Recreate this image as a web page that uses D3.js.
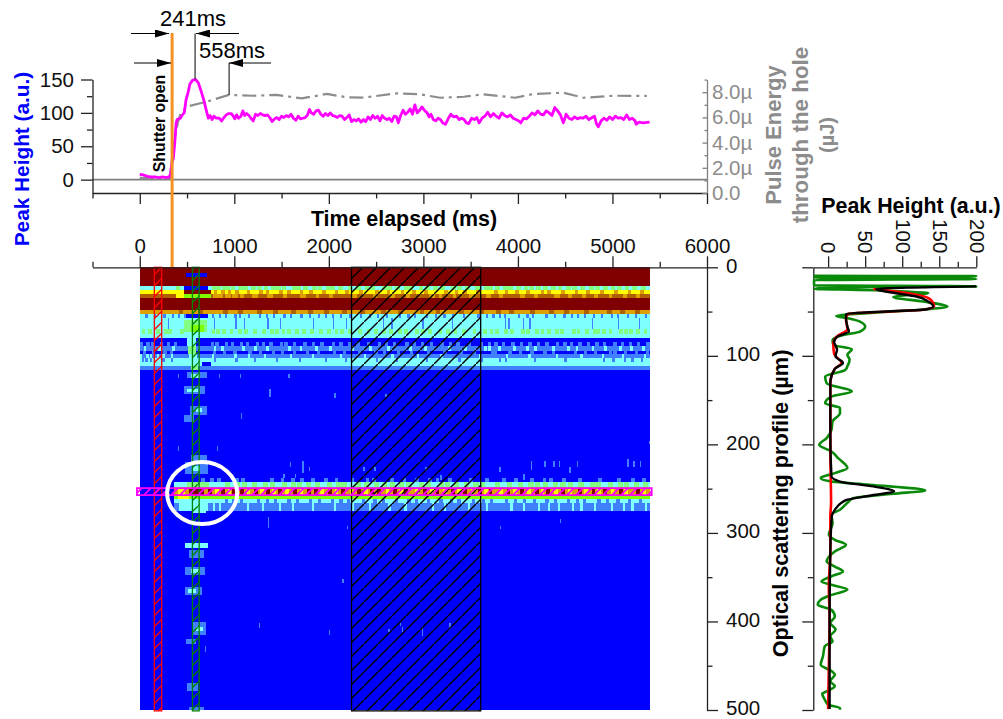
<!DOCTYPE html>
<html lang="en">
<head>
  <meta charset="UTF-8">
  <title>Optical scattering profile</title>
  <script src="https://d3js.org/d3.v7.min.js"></script>
  <style>
    body { margin: 0; background: white; font-family: "Liberation Sans", Arial, sans-serif; }
    text { font-family: "Liberation Sans", Arial, sans-serif; }
    .axis text { font-size: 20.5px; fill: #111; }
    .axis path, .axis line { stroke: #222; stroke-width: 1.3px; }
    .grey path, .grey line { stroke: #808080; }
    .grey text { fill: #8c8c8c; }
    .label { font-weight: bold; font-size: 21.4px; }
  </style>
</head>
<body>
<div id="chart"></div>
<script>
// ---- top trace: peak height (a.u.) against time (ms)
var peakTime = [0,40,80,120,160,200,240,280,310,325,340,355,370,385,395,430,450,470,490,510,530,560,590,620,650,680,705,725,745,765,785,810,840,865,890,915,940,965,985,1005,1025,1045,1070,1090,1110,1130,1155,1175,1200,1225,1250,1275,1300,1325,1350,1375,1400,1425,1450,1475,1500,1525,1550,1575,1600,1625,1650,1675,1700,1725,1750,1775,1795,1815,1840,1865,1890,1915,1940,1965,1990,2015,2040,2065,2090,2115,2140,2165,2190,2215,2240,2265,2290,2315,2340,2365,2390,2415,2440,2465,2490,2515,2540,2565,2590,2615,2640,2665,2690,2715,2735,2760,2785,2810,2835,2860,2885,2910,2935,2960,2985,3010,3040,3060,3080,3105,3130,3155,3180,3205,3235,3265,3290,3320,3350,3380,3405,3430,3455,3480,3510,3540,3565,3590,3620,3650,3680,3710,3740,3770,3800,3830,3860,3890,3920,3950,3980,4010,4030,4060,4090,4120,4150,4180,4210,4240,4270,4300,4330,4360,4390,4420,4450,4480,4510,4540,4570,4600,4630,4660,4690,4720,4750,4785,4810,4830,4850,4880,4910,4940,4970,5000,5030,5060,5090,5120,5150,5180,5210,5240,5250,5280,5320,5393];
var peakHeight = [8,7,5,4,4,3,4,3,4,8,25,32,55,85,90,92,97,100,120,130,143,149,150,145,132,118,103,92,96,90,95,92,92,88,93,97,99,99,96,91,97,92,95,103,96,99,96,92,88,98,96,99,97,96,97,93,87,91,93,90,95,93,96,94,98,92,89,95,91,92,93,97,105,100,98,103,104,98,95,99,96,100,96,95,93,96,95,90,93,97,87,90,88,91,86,90,87,94,90,96,92,95,88,96,92,90,92,87,95,94,85,96,104,98,101,106,98,112,100,104,109,104,100,94,98,90,88,92,90,85,83,92,98,94,95,90,92,90,85,84,92,90,93,85,92,95,101,94,99,95,92,100,96,94,97,92,90,88,85,92,91,95,100,97,103,98,97,103,100,96,108,103,97,85,98,92,90,94,91,93,92,95,90,93,95,84,79,88,92,89,94,90,95,92,93,90,97,90,92,88,83,86,85,86];

// ---- top trace: pulse energy (uJ)
var energyTime = [0,150,320,340,370,400,430,496,708,942,1203,1449,1714,1979,2190,2366,2718,2965,3178,3425,3636,3971,4165,4483,4694,5012,5364];
var energyValue = [1.2,1.2,1.2,2.6,4.2,5.5,6.3,6.85,7.25,7.78,7.72,7.78,7.51,7.86,7.6,7.57,7.91,7.83,7.56,7.64,7.83,7.56,7.86,7.96,7.56,7.72,7.7];

var shutterTime = 342, peakAt = 585, settleAt = 945;

// ---- heat map: horizontal bands, depth in um, level is an index in heatColours
var heatColours = ["#0000ff","#4080ff","#80ffff","#80ff80","#80ff00","#ffff00","#dca000","#b06000","#800000"];
var heatEnd = 5393;
var bandDepths = [0,21,26,30,34.5,48.6,53,70,75,80,89,94,98,103,107,112,116,500];
var bandLevels = [8,2,5,7,8,6,2,2,2,0,1,0,1,2,2,1,0];
var lowerStart = 360;
var lowerDepths = [243,248,250.7,257,262,266,275];
var lowerLevels = [2,4,6,4,2,1];

// flecks inside the bands, start time of each small cell
var green21 = [380,760,810,870,900,960,1040,1090,1180,1240,1310,1390,1440,1500,1610,1660,1730,1820,1880,1970,2020,2100,2200,2290,2380,2440,2560,2620,2700,2790,2840,2950,3020,3100,3180,3290,3360,3440,3550,3640,3690,3760,3840,3900,3980,4060,4120,4190,4270,4350,4420,4510,4570,4660,4750,4820,4900,4980,5050,5130,5210,5300];
var amber26 = [780,860,930,1010,1130,1260,1330,1470,1560,1690,1790,1930,2060,2170,2320,2490,2610,2760,2880,3010,3220,3330,3420,3560,3750,3860,3970,4090,4240,4310,4460,4600,4720,4870,5020,5160,5290];
var bright30 = [770,790,820,840,900,920,980,1000,1060,1190,1210,1350,1370,1520,1700,1720,1860,2000,2240,2260,2470,2640,2660,2820,3060,3080,3160,3310,3480,3500,3660,3680,3800,4020,4040,4170,4380,4400,4530,4680,4810,4960,5110,5250];
var dark49 = [410,620,880,1040,1240,1410,1600,1780,1950,2140,2330,2550,2730,2960,3130,3380,3590,3770,3910,4130,4330,4490,4700,4940,5080,5240];
var blue53 = [60,150,250,340,400,470,760,840,900,1000,1050,1140,1260,1330,1410,1520,1590,1700,1790,1880,1960,2030,2120,2210,2330,2420,2510,2600,2740,2830,2900,3030,3120,3210,3300,3420,3570,3660,3730,3800,3850,4000,4090,4150,4290,4380,4480,4560,4620,4700,4790,4880,4980,5050,5150,5240,5340];
var blue57 = [300,780,1010,1100,1350,1480,1830,2040,2180,2570,2660,2990,3300,3860,3900,4050,4120,4780,5060,5280];
var green70 = [20,90,170,260,300,430,760,810,870,950,1040,1100,1200,1290,1380,1430,1500,1560,1640,1720,1800,1900,1980,2060,2120,2200,2310,2400,2480,2560,2640,2730,2800,2910,2980,3050,3160,3240,3320,3410,3520,3630,3700,3760,3850,3920,4030,4090,4180,4240,4310,4390,4450,4570,4620,4710,4790,4830,4890,4960,5070,5120,5180,5250,5330];
var light84 = [0,70,120,210,290,360,750,800,900,960,1060,1120,1230,1290,1370,1480,1530,1620,1730,1820,1910,2030,2110,2200,2290,2400,2520,2590,2680,2810,2890,2970,3070,3180,3270,3350,3470,3600,3680,3750,3830,3930,4020,4110,4200,4290,4400,4480,4550,4640,4730,4820,4900,5010,5090,5170,5260,5360];
var cyan89 = [40,190,340,780,860,1080,1210,1340,1570,1690,1850,2000,2240,2430,2620,2850,3010,3260,3430,3640,3680,3790,3950,4090,4170,4360,4520,4610,4780,4910,5070,5190,5310];
var light94 = [30,130,250,320,770,880,990,1150,1260,1400,1490,1620,1760,1870,2040,2150,2310,2480,2570,2720,2860,3040,3210,3380,3520,3710,3740,3900,4010,4130,4270,4360,4590,4700,4800,4960,5010,5120,5240,5350];
var cyan98 = [0,70,110,180,240,330,760,1000,1140,1310,1590,1820,2120,2370,2660,2930,3180,3590,3870,4110,4400,4660,4890,5100,5330];
var light103 = [20,60,110,240,330,780,1010,1210,1440,1680,1960,2170,2500,2710,3030,3370,3610,3800,3860,4170,4490,4900,5000,5120,5200,5300];

// flecks around the bright line at 255 um
var halo238 = [650,740,820,1010,1070,1380,1490,1600,1700,1810,1950,2060,2230,2390,2460,2650,2780,2910,3050,3130,3260,3480,3650,3830,3960,4130,4260,4330,4470,4640,4850,5050,5200,5310];
var green243 = [500,560,620,680,900,1000,1080,1190,1300,1380,1500,1600,1660,1760,1850,1980,2080,2140,2280,2370,2480,2560,2650,2740,2820,2950,3030,3160,3230,3320,3430,3530,3600,3760,3880,4000,4110,4180,4260,4370,4450,4530,4640,4760,4820,4950,5060,5120,5230,5320];
var red250 = [520,560,600,640,720,860,980,1060,1210,1340,1460,1620,1770,1840,1990,2130,2300,2440,2510,2680,2800,3000,3130,3290,3420,3580,3690,3880,4020,4180,4300,4460,4640,4780,4900,5070,5250];
var yellow250 = [400,440,800,930,1130,1270,1400,1540,1690,1910,2060,2220,2370,2600,2740,2910,3070,3210,3360,3500,3640,3800,3950,4100,4240,4380,4530,4700,4840,4980,5120,5320];
var light262 = [900,980,1060,1240,1330,1420,1560,1650,1790,1880,2020,2110,2190,2350,2470,2560,2700,2830,2910,3040,3170,3280,3360,3510,3620,3700,3860,3960,4050,4160,4290,4380,4520,4610,4690,4840,4930,5040,5160,5280];
var cyan266 = [440,620,700,770,840,1130,1290,1470,1610,1820,2050,2240,2420,2630,2800,3090,3220,3470,3660,3920,4050,4210,4320,4420,4570,4660,4800,4980,5110,5200,5340];

// patches round the pulse column: [t0, t1, depth0, depth1, level]
var pulsePatches = [
  [487,715,6.7,11,0],[469,723,21,26,0],[469,750,26,30,8],[380,470,30,34.5,5],[470,750,30,34.5,4],
  [490,720,53,57,0],[469,715,60,73,3],[540,680,65,73,4],[500,600,80,89,2],[510,600,89,98,3],
  [520,610,98,107,2],[660,750,107,112,0],[540,620,112,116,3],[500,710,118,125,1],[540,640,120,125,2],
  [469,691,134,143,1],[500,620,137,141,2],[532,712,157,167,1],[590,660,159,163,2],[469,570,167,175,1],
  [540,712,212,220,1],[480,720,220,233,1],[560,640,224,230,2],
  [400,520,257,262,5],[380,700,262,266,2],[420,720,266,275,2],[560,700,270,278,2],
  [480,720,311,317,2],[520,680,319,328,1],[480,690,338,347,1],[540,640,341,345,2],
  [480,660,361,370,1],[510,600,363,368,2],[560,700,401,415,1],[590,670,406,411,2],[490,600,420,426,1],
  [500,620,469,479,1],[520,680,497,500,1]
];

// single thin cells in the blue field: [t, depth0, depth1]
var tinyFlecks = [[402,121,125],[839,121,125],[1062,121,125],[1573,121,125],[1372,137,147],[2057,142,148],[2596,143,146],[1072,165,171],[402,202,207],[815,202,207],[1590,220,225],[1718,219,232],[1790,225,230],[2365,225,230],[2480,225,230],[1354,282,294],[1714,222,232],[1640,233,238],[1520,233,238],[4137,219,229],[4280,219,226],[4375,219,226],[4430,219,226],[4624,219,226],[5157,216,226],[5222,219,226],[5290,219,226],[3804,225,231],[4058,234,240],[4545,226,232],[4441,284,289],[3810,292,296],[5385,196,200],[691,428,434],[1262,402,407],[2000,410,415],[2142,352,357],[2628,408,412],[2772,406,412],[2750,402,405],[2984,406,416],[3273,402,408],[3020,225,230],[3180,235,240],[2190,292,296]];

// hatched selections
var redWindow = [154,232], greenWindow = [557,628], blackWindow = [2240,3606], pinkDepths = [249.4,257.3];

// ---- right panel: depth (um) and peak height (a.u.)
var greenDepth = [9.5,10,11.5,13.2,14.5,20.5,21.5,22.5,24.5,25.5,26,27.5,29,33.5,38.7,44.4,47.4,51.9,54.9,57.5,61.3,66.9,72.6,76.3,82,87.6,92.5,98.9,104.5,112,115.9,123.4,131,140.3,146,153.5,159,164.8,174,183.6,193,200.5,208,215.5,226.8,232.5,238,242,245.6,252,255.8,260.7,266,273.8,279.5,288.9,302,307.8,313.4,321,332,338,343.5,349,355,358.6,364,370,375.5,381,386.8,394.3,401.8,409,416.8,422.5,428,439.4,448.8,456,460,467.6,473,479,481.5,488.3,494,497.7,499.6];
var greenValue = [-19,200,-19,200,-19,-19,200,30,-19,40,63,105,135,88,128,161,133,52,11,27,43,50,43,22,6,7,32,26,29,26,23,-4,-2,32,4.5,-4,16,16,6,4.5,-2,-12,4.5,13.5,26,9,-10,4.5,56,131,88,34,26,16,4.5,6,1,9,24,9,-2,9,20,4.5,-9,4.5,26,4.5,-10,-14,4.5,9,3,10,3,6,-4.5,-7,-10,4.5,9,3,9,-2,-8,-4.5,0,16,16];
var redDepth = [24.5,27,29.5,35.5,44,48,52.6,58,70,78,86,97.5,108,114.7,131,210,266,281,319,360,400,450,499];
var redValue = [61,88,110,137,143,128,27,24,26,12,7,8,18,9,3,3,4,3,3,1,2,1,0];
var blackDepth = [21.5,24.5,25.5,29.3,33,38.7,44.4,47.4,52.6,55.7,67,72.6,78,84,93,100.5,108,114.7,131,191,236,242,247.5,253,258,262.5,266,274,281,319,400,499];
var blackValue = [200,65,67,92,119,135,142,133,25,24,26,28,13,8,12,10,20,9,3,3,4.5,16,61,89,56,26,18,9,5,3,2,2];

var xTicks = [0,1000,2000,3000,4000,5000,6000];
var xMinor = [-500,500,1500,2500,3500,4500,5500];

// ---- scales
var width = 1003, height = 719;
var svg = d3.select("#chart").append("svg").attr("width", width).attr("height", height).style("display", "block");

var xScale = d3.scaleLinear().domain([-500,6000]).range([92.5,707]);
var yPeak = d3.scaleLinear().domain([-20,150]).range([193,79.5]);
var yEnergy = d3.scaleLinear().domain([0,9]).range([193,79.6]);
var yDepth = d3.scaleLinear().domain([0,500]).range([267.3,710]);
var xPanel = d3.scaleLinear().domain([-20,200]).range([813.3,976.3]);

// ---- hatch patterns
function addHatch(id, colour, size, weight) {
  svg.append("pattern").attr("id", id).attr("patternUnits", "userSpaceOnUse")
    .attr("width", size).attr("height", size)
    .append("path").attr("d", "M-1," + (size+1) + " L" + (size+1) + ",-1")
    .attr("stroke", colour).attr("stroke-width", weight);
}
addHatch("hatchBlack", "#000", 14, 1.4);
addHatch("hatchRed", "#ff0000", 11, 1.3);
addHatch("hatchGreen", "#008000", 11, 1.3);
addHatch("hatchPink", "#ff00ff", 9, 1.8);

// ---- heat map
var heat = svg.append("g").attr("shape-rendering", "crispEdges");
function cell(t0, t1, d0, d1, level) {
  heat.append("rect").attr("x", xScale(t0)).attr("y", yDepth(d0))
    .attr("width", xScale(t1)-xScale(t0)).attr("height", yDepth(d1)-yDepth(d0))
    .attr("fill", heatColours[level]);
}
bandLevels.forEach(function(l, i) { cell(0, heatEnd, bandDepths[i], bandDepths[i+1], l); });
lowerLevels.forEach(function(l, i) { cell(lowerStart, heatEnd, lowerDepths[i], lowerDepths[i+1], l); });

// each row: times, depth0, depth1, level, cell width in ms
var fleckRows = [
  [green21,21,26,3,50],[amber26,26,30,6,40],[bright30,30,34.5,6,40],[dark49,48.6,53,7,50],[blue53,53,57,1,24],[blue57,57,70,1,14],
  [green70,70,75,3,40],[light84,84,89,1,35],[cyan89,89,94,2,30],[light94,94,98,1,35],[cyan98,98,103,2,24],[light103,103,107,1,24],
  [halo238,238,243,1,40],[green243,243,248,3,55],[red250,250.7,257,8,40],[yellow250,250.7,257,5,40],[light262,262,266,1,35],[cyan266,266,275,2,24]
];
fleckRows.forEach(function(r) {
  r[0].forEach(function(t) { cell(t, Math.min(t+r[4], heatEnd), r[1], r[2], r[3]); });
});
pulsePatches.forEach(function(p) { cell(p[0], p[1], p[2], p[3], p[4]); });
tinyFlecks.forEach(function(f) { cell(f[0], f[0]+14, f[1], f[2], 1); });

// ---- selections drawn over the map
function selection(t0, t1, d0, d1, pattern, colour, weight) {
  svg.append("rect").attr("x", xScale(t0)).attr("y", yDepth(d0))
    .attr("width", xScale(t1)-xScale(t0)).attr("height", yDepth(d1)-yDepth(d0))
    .attr("fill", "url(#" + pattern + ")").attr("stroke", colour).attr("stroke-width", weight);
}
selection(redWindow[0], redWindow[1], 0, 501, "hatchRed", "#ff0000", 1.3);
selection(greenWindow[0], greenWindow[1], 0, 501, "hatchGreen", "#008000", 1.3);
selection(blackWindow[0], blackWindow[1], 0, 501, "hatchBlack", "#000", 1.3);
selection(-30, 5415, pinkDepths[0], pinkDepths[1], "hatchPink", "#ff00ff", 1.8);

svg.append("ellipse").attr("cx", xScale(660)).attr("cy", yDepth(255)).attr("rx", 35).attr("ry", 31)
  .attr("fill", "none").attr("stroke", "white").attr("stroke-width", 4);

// ---- axes
function minorTicks(g) { g.selectAll("text").remove(); g.select(".domain").remove(); }

// top trace
svg.append("line").attr("x1", xScale(-500)).attr("x2", xScale(6000)).attr("y1", yPeak(0)).attr("y2", yPeak(0))
  .attr("stroke", "#7f7f7f").attr("stroke-width", 1.6);
svg.append("g").attr("class", "axis").attr("transform", "translate(92.5,0)")
  .call(d3.axisLeft(yPeak).tickValues([0,50,100,150]).tickSize(11.5).tickSizeOuter(0).tickPadding(7));
svg.append("g").attr("class", "axis").attr("transform", "translate(92.5,0)")
  .call(d3.axisLeft(yPeak).tickValues([25,75,125]).tickSize(5.5)).call(minorTicks);
svg.append("g").attr("class", "axis").attr("transform", "translate(0,193)")
  .call(d3.axisBottom(xScale).tickValues(xTicks).tickSize(11).tickSizeOuter(0).tickFormat(""));
svg.append("g").attr("class", "axis").attr("transform", "translate(0,193)")
  .call(d3.axisBottom(xScale).tickValues(xMinor).tickSize(5.5)).call(minorTicks);
svg.append("g").attr("class", "axis grey").attr("transform", "translate(707,0)")
  .call(d3.axisRight(yEnergy).tickValues([0,2,4,6,8]).tickSize(-4.5).tickSizeOuter(0).tickPadding(5)
    .tickFormat(function(d) { return d === 0 ? "0.0" : d.toFixed(1) + "\u00b5"; }));
svg.append("g").attr("class", "axis grey").attr("transform", "translate(707,0)")
  .call(d3.axisRight(yEnergy).tickValues([1,3,5,7,9]).tickSize(-2.5)).call(minorTicks);

// heat map axes
svg.append("g").attr("class", "axis").attr("transform", "translate(0,267.3)")
  .call(d3.axisTop(xScale).tickValues(xTicks).tickSize(11).tickSizeOuter(0).tickPadding(3).tickFormat(d3.format("d")));
svg.append("g").attr("class", "axis").attr("transform", "translate(0,267.3)")
  .call(d3.axisTop(xScale).tickValues(xMinor).tickSize(5.5)).call(minorTicks);
svg.append("g").attr("class", "axis depth").attr("transform", "translate(707,0)")
  .call(d3.axisRight(yDepth).tickValues([0,100,200,300,400,500]).tickSize(11).tickSizeOuter(0).tickPadding(8));
svg.selectAll(".depth text").attr("dy", "0.24em");
svg.append("g").attr("class", "axis").attr("transform", "translate(707,0)")
  .call(d3.axisRight(yDepth).tickValues([50,150,250,350,450]).tickSize(5.5)).call(minorTicks);

// right panel axes
var panelTop = svg.append("g").attr("class", "axis").attr("transform", "translate(0,267.3)")
  .call(d3.axisTop(xPanel).tickValues([0,50,100,150,200]).tickSize(11).tickSizeOuter(0));
panelTop.selectAll("text").attr("x", 0).attr("y", 0).attr("dy", "0.35em")
  .attr("text-anchor", "end").attr("transform", "translate(0,-14) rotate(90)");
svg.append("g").attr("class", "axis").attr("transform", "translate(0,267.3)")
  .call(d3.axisTop(xPanel).tickValues([25,75,125,175]).tickSize(5.5)).call(minorTicks);
svg.append("g").attr("class", "axis").attr("transform", "translate(813.3,0)")
  .call(d3.axisLeft(yDepth).tickValues([0,100,200,300,400,500]).tickSize(11).tickSizeOuter(0).tickFormat(""));
svg.append("g").attr("class", "axis").attr("transform", "translate(813.3,0)")
  .call(d3.axisLeft(yDepth).tickValues([50,150,250,350,450]).tickSize(5.5)).call(minorTicks);

// ---- lines
var energyLine = d3.line().x(function(d, i) { return xScale(energyTime[i]); }).y(function(d) { return yEnergy(d); });
svg.append("path").attr("d", energyLine(energyValue)).attr("fill", "none").attr("stroke", "#8c8c8c")
  .attr("stroke-width", 2.2).attr("stroke-dasharray", "14 5 3 5");

var peakLine = d3.line().x(function(d, i) { return xScale(peakTime[i]); }).y(function(d) { return yPeak(d); });
svg.append("path").attr("d", peakLine(peakHeight)).attr("fill", "none").attr("stroke", "#ff00ff")
  .attr("stroke-width", 2.8).attr("stroke-linejoin", "round");

function panelLine(depths, values, colour, weight) {
  var line = d3.line().curve(d3.curveMonotoneY)
    .x(function(d) { return xPanel(d); })
    .y(function(d, i) { return yDepth(depths[i]); });
  svg.append("path").attr("d", line(values)).attr("fill", "none").attr("stroke", colour)
    .attr("stroke-width", weight).attr("stroke-linejoin", "round");
}
panelLine(greenDepth, greenValue, "#0a8a0a", 2.6);
panelLine(redDepth, redValue, "#ff0000", 2.6);
panelLine(blackDepth, blackValue, "#000", 2.4);

// ---- shutter and timing annotations
svg.append("marker").attr("id", "arrow").attr("viewBox", "0 0 14 8").attr("refX", 14).attr("refY", 4)
  .attr("markerUnits", "userSpaceOnUse").attr("markerWidth", 14).attr("markerHeight", 8).attr("orient", "auto")
  .append("path").attr("d", "M0,0 L14,4 L0,8 Z").attr("fill", "#000");

function arrow(x1, x2, y) {
  svg.append("line").attr("x1", x1).attr("x2", x2).attr("y1", y).attr("y2", y)
    .attr("stroke", "#000").attr("stroke-width", 1).attr("marker-end", "url(#arrow)");
}
function tickLine(x, y1, y2) {
  svg.append("line").attr("x1", x).attr("x2", x).attr("y1", y1).attr("y2", y2).attr("stroke", "#000").attr("stroke-width", 1);
}
svg.append("line").attr("x1", xScale(shutterTime)).attr("x2", xScale(shutterTime)).attr("y1", 33).attr("y2", 267)
  .attr("stroke", "#f59122").attr("stroke-width", 3);

arrow(131, 169, 33.5);
arrow(239, 196, 33.5);
tickLine(xScale(peakAt), 33.5, yPeak(150));
arrow(134, 171, 63);
arrow(271, 229, 63);
tickLine(xScale(settleAt), 63, 95);

svg.append("text").attr("x", 160).attr("y", 26).style("font-size", "22px").text("241ms");
svg.append("text").attr("x", 199).attr("y", 58).style("font-size", "22px").text("558ms");
svg.append("text").attr("transform", "translate(165,123.5) rotate(-90)").attr("text-anchor", "middle")
  .style("font-size", "15.8px").style("font-weight", "bold").text("Shutter open");

// ---- titles
svg.append("text").attr("class", "label").attr("x", 404).attr("y", 226).attr("text-anchor", "middle").text("Time elapsed (ms)");
svg.append("text").attr("class", "label").attr("transform", "translate(28.5,159) rotate(-90)").attr("text-anchor", "middle")
  .attr("fill", "#0000ff").style("font-size", "20.8px").text("Peak Height (a.u.)");
svg.append("text").attr("class", "label").attr("x", 911).attr("y", 213).attr("text-anchor", "middle").text("Peak Height (a.u.)");
svg.append("text").attr("class", "label").attr("transform", "translate(788,503.5) rotate(-90)").attr("text-anchor", "middle")
  .style("font-size", "21.7px").text("Optical scattering profile (\u00b5m)");

[["Pulse Energy",781,22],["through the hole",808,22.4],["(\u00b5J)",834,20]].forEach(function(l) {
  svg.append("text").attr("class", "label").attr("transform", "translate(" + l[1] + ",135) rotate(-90)").attr("text-anchor", "middle")
    .attr("fill", "#8c8c8c").style("font-size", l[2] + "px").text(l[0]);
});
</script>
</body>
</html>
